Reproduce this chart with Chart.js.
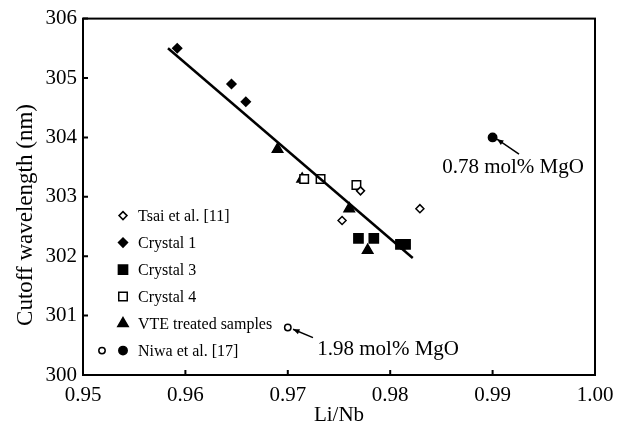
<!DOCTYPE html>
<html>
<head>
<meta charset="utf-8">
<script src="https://cdn.jsdelivr.net/npm/chart.js@4.4.1/dist/chart.umd.min.js"></script>
<style>
  html, body { margin: 0; padding: 0; background: #fff; }
  #wrap { width: 628px; height: 437px; }
</style>
</head>
<body>
<div id="wrap"><canvas id="chart"></canvas></div>
<script>
// data: [Li/Nb, cutoff wavelength (nm)]
const tsai = [[0.9771, 303.1], [0.9753, 302.6], [0.9829, 302.8]];
const crystal1 = [[0.9592, 305.5], [0.9645, 304.9], [0.9659, 304.6]];
const crystal3 = [[0.9769, 302.3], [0.9784, 302.3], [0.9810, 302.2], [0.9815, 302.2]];
const crystal4 = [[0.9716, 303.3], [0.9732, 303.3], [0.9767, 303.2]];
const vte = [[0.9690, 303.8], [0.9714, 303.3], [0.9760, 302.8], [0.9778, 302.1]];
const niwaOpen = [[0.9700, 300.8]];
const niwaFilled = [[0.9900, 304.0]];
const fitLine = [[0.9583, 305.5], [0.9822, 301.97]];

const xTicks = [0.95, 0.96, 0.97, 0.98, 0.99, 1.00];
const yTicks = [300, 301, 302, 303, 304, 305, 306];

// annotation: label, label position, arrow tail, arrow head
const notes = [
  { text: "0.78 mol% MgO", at: [0.9920, 303.5], from: [0.99258, 303.72], to: [0.99043, 303.97] },
  { text: "1.98 mol% MgO", at: [0.9798, 300.43], from: [0.97246, 300.63], to: [0.97051, 300.77] }
];

const legendItems = [
  { label: "Tsai et al. [11]", marks: [{ style: "rectRot", r: 4, fill: "#fff" }] },
  { label: "Crystal 1", marks: [{ style: "rectRot", r: 4.5, fill: "#000" }] },
  { label: "Crystal 3", marks: [{ style: "rect", r: 6.5, fill: "#000" }] },
  { label: "Crystal 4", marks: [{ style: "rect", r: 6, fill: "#fff" }] },
  { label: "VTE treated samples", marks: [{ style: "triangle", r: 6, fill: "#000" }] },
  { label: "Niwa et al. [17]", marks: [{ style: "circle", r: 3.2, fill: "#fff", dx: -21 }, { style: "circle", r: 4.2, fill: "#000" }] }
];

const serif = "'Liberation Serif', 'Times New Roman', serif";
const toXY = arr => arr.map(p => ({ x: p[0], y: p[1] }));

function pts(label, arr, style, r, fill) {
  return {
    label, data: toXY(arr), pointStyle: style, pointRadius: r, pointHoverRadius: r,
    backgroundColor: fill, borderColor: "#000", borderWidth: 1.5, showLine: false
  };
}

const framePlugin = {
  id: "frame",
  afterDraw(chart) {
    const { ctx, chartArea: a, scales: { x, y } } = chart;
    ctx.save();
    ctx.strokeStyle = "#000";
    ctx.lineWidth = 2;
    ctx.strokeRect(a.left, a.top, a.right - a.left, a.bottom - a.top);
    ctx.beginPath();
    xTicks.forEach(v => {
      const px = x.getPixelForValue(v);
      ctx.moveTo(px, a.bottom); ctx.lineTo(px, a.bottom - 5);
    });
    yTicks.forEach(v => {
      const py = y.getPixelForValue(v);
      ctx.moveTo(a.left, py); ctx.lineTo(a.left + 5, py);
    });
    ctx.stroke();

    // legend inside plot
    ctx.font = "16px " + serif;
    ctx.fillStyle = "#000";
    ctx.textBaseline = "middle";
    ctx.textAlign = "left";
    legendItems.forEach((it, i) => {
      const ly = a.top + 197 + i * 27;
      const lx = a.left + 40;
      it.marks.forEach(m => {
        ctx.fillStyle = m.fill;
        ctx.strokeStyle = "#000";
        ctx.lineWidth = 1.5;
        Chart.helpers.drawPoint(ctx, { pointStyle: m.style, radius: m.r, borderWidth: 1.5 }, lx + (m.dx || 0), ly);
      });
      ctx.fillStyle = "#000";
      ctx.fillText(it.label, lx + 15, ly + 1);
    });

    // annotations with arrows
    ctx.font = "21px " + serif;
    ctx.textAlign = "center";
    notes.forEach(n => {
      ctx.fillText(n.text, x.getPixelForValue(n.at[0]), y.getPixelForValue(n.at[1]));
      const x1 = x.getPixelForValue(n.from[0]), y1 = y.getPixelForValue(n.from[1]);
      const x2 = x.getPixelForValue(n.to[0]), y2 = y.getPixelForValue(n.to[1]);
      const ang = Math.atan2(y2 - y1, x2 - x1);
      ctx.lineWidth = 1.5;
      ctx.beginPath();
      ctx.moveTo(x1, y1); ctx.lineTo(x2, y2);
      ctx.stroke();
      ctx.beginPath();
      ctx.moveTo(x2, y2);
      ctx.lineTo(x2 - 7 * Math.cos(ang - 0.4), y2 - 7 * Math.sin(ang - 0.4));
      ctx.lineTo(x2 - 7 * Math.cos(ang + 0.4), y2 - 7 * Math.sin(ang + 0.4));
      ctx.closePath();
      ctx.fill();
    });

    // y axis title
    ctx.save();
    ctx.translate(26, 215);
    ctx.rotate(-Math.PI / 2);
    ctx.font = "23px " + serif;
    ctx.fillText("Cutoff wavelength (nm)", 0, 0);
    ctx.restore();
    ctx.restore();
  }
};

new Chart(document.getElementById("chart"), {
  type: "scatter",
  data: {
    datasets: [
      {
        label: "fit", data: toXY(fitLine), showLine: true, pointRadius: 0,
        borderColor: "#000", borderWidth: 2.5, fill: false
      },
      pts("Tsai et al. [11]", tsai, "rectRot", 4, "#fff"),
      pts("Crystal 1", crystal1, "rectRot", 4.5, "#000"),
      pts("Crystal 3", crystal3, "rect", 6.5, "#000"),
      pts("Crystal 4", crystal4, "rect", 6, "#fff"),
      pts("VTE treated samples", vte, "triangle", 6, "#000"),
      pts("Niwa open", niwaOpen, "circle", 3.2, "#fff"),
      pts("Niwa filled", niwaFilled, "circle", 4.2, "#000")
    ]
  },
  options: {
    responsive: true,
    maintainAspectRatio: false,
    animation: false,
    layout: { padding: { top: 15, right: 33, left: 0, bottom: 0 } },
    plugins: { legend: { display: false }, tooltip: { enabled: false } },
    scales: {
      x: {
        type: "linear", min: 0.95, max: 1.0,
        afterBuildTicks: s => { s.ticks = xTicks.map(v => ({ value: v })); },
        afterFit: s => { s.height = 62; },
        grid: { display: false, drawTicks: false },
        border: { display: false },
        ticks: {
          color: "#000", padding: 8, font: { family: serif, size: 21 },
          callback: v => v.toFixed(2)
        },
        title: {
          display: true, text: "Li/Nb", color: "#000",
          font: { family: serif, size: 21 }, padding: { top: 0, bottom: 9 }
        }
      },
      y: {
        type: "linear", min: 300, max: 306,
        afterBuildTicks: s => { s.ticks = yTicks.map(v => ({ value: v })); },
        afterFit: s => { s.width = 83; },
        grid: { display: false, drawTicks: false },
        border: { display: false },
        ticks: {
          color: "#000", padding: 6, font: { family: serif, size: 21 },
          callback: v => String(v)
        }
      }
    }
  },
  plugins: [framePlugin]
});
</script>
</body>
</html>
